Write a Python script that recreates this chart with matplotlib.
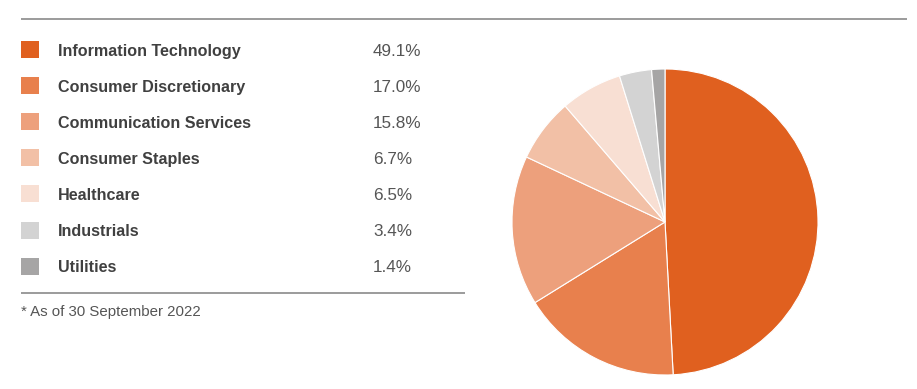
import matplotlib
matplotlib.use("Agg")
import matplotlib.pyplot as plt
from matplotlib.patches import Rectangle

plt.rcParams['font.family'] = ['Liberation Sans', 'DejaVu Sans']

sectors = ["Information Technology", "Consumer Discretionary", "Communication Services",
           "Consumer Staples", "Healthcare", "Industrials", "Utilities"]
weights = [49.1, 17.0, 15.8, 6.7, 6.5, 3.4, 1.4]
colors = ["#E0601F", "#E8804D", "#EDA07C", "#F2C0A6", "#F8DFD3", "#D3D3D3", "#A6A5A5"]
footnote = "* As of 30 September 2022"

W, H = 917, 389
fig = plt.figure(figsize=(W / 100, H / 100), dpi=100)
fig.patch.set_facecolor("white")

# overlay axes in pixel coords
ax = fig.add_axes([0, 0, 1, 1])
ax.set_xlim(0, W)
ax.set_ylim(H, 0)
ax.axis("off")

ax.plot([21, 907], [19, 19], color="#8a8a8a", lw=1.2, solid_capstyle="butt")
ax.plot([21, 465], [293, 293], color="#8a8a8a", lw=1.2, solid_capstyle="butt")

row0, step = 49.5, 36.1
for i, (name, w, c) in enumerate(zip(sectors, weights, colors)):
    y = row0 + i * step
    ax.add_patch(Rectangle((21, y - 8.5), 18, 17, facecolor=c, edgecolor="none"))
    ax.text(58, y + 6, name, fontsize=11.6, fontweight="bold", color="#404040",
            va="baseline", ha="left")
    ax.text(373, y + 6, f"{w:.1f}%", fontsize=12.3, color="#555555", va="baseline", ha="left")

ax.text(21, 316, footnote, fontsize=10.8, color="#555555", va="baseline", ha="left")

# pie
cx, cy, r = 665, 222, 153
pax = fig.add_axes([(cx - r) / W, (H - cy - r) / H, 2 * r / W, 2 * r / H])
pax.pie(weights, colors=colors, startangle=90, counterclock=False,
        wedgeprops=dict(edgecolor="white", linewidth=0.8))
pax.set_xlim(-1, 1)
pax.set_ylim(-1, 1)
pax.set_aspect("auto")
pax.axis("off")

fig.savefig("out.png", dpi=100, facecolor="white")
